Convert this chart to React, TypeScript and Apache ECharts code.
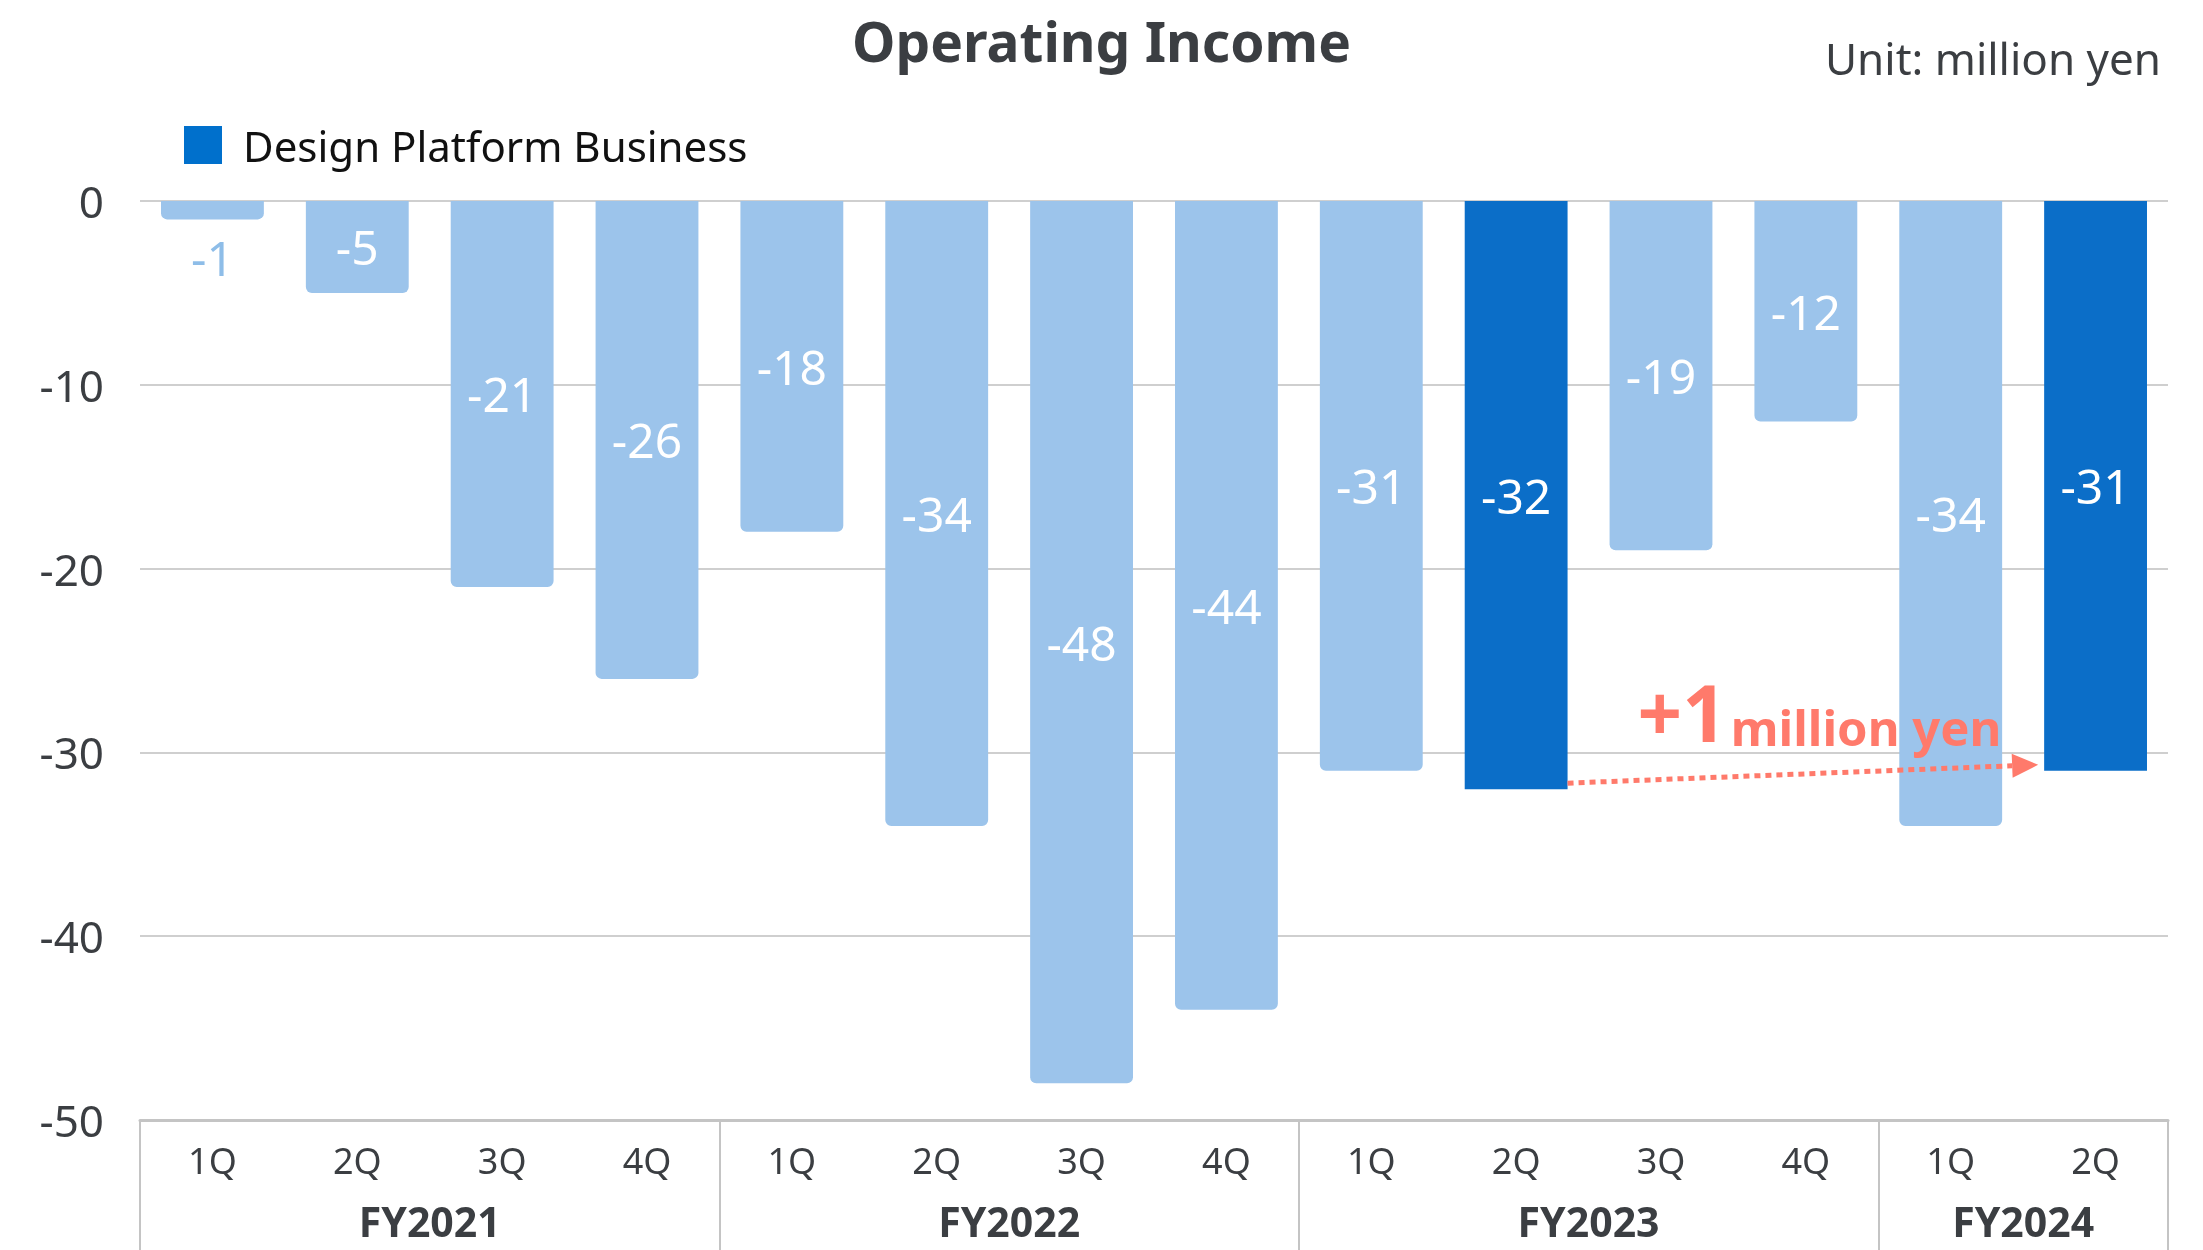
import React, { useEffect, useRef } from "react";
import * as echarts from "echarts";

const quarters = ["1Q", "2Q", "3Q", "4Q", "1Q", "2Q", "3Q", "4Q", "1Q", "2Q", "3Q", "4Q", "1Q", "2Q"];
const fiscalYears = ["FY2021", "FY2022", "FY2023", "FY2024"];
const yearSizes = [4, 4, 4, 2];
const values = [-1, -5, -21, -26, -18, -34, -48, -44, -31, -32, -19, -12, -34, -31];
const highlighted = [9, 13];
const outsideLabel = [0];
const compareFrom = 9;
const compareTo = 13;
const diffText = "+1";
const diffUnit = "million yen";
const seriesName = "Design Platform Business";

const FONT = "'Noto Sans', 'Liberation Sans', sans-serif";
const DARK = "#0B6EC8";
const LIGHT = "#9CC4EB";
const CORAL = "#FF7A6B";
const TEXT = "#3b3e42";

export default function App() {
  const ref = useRef<HTMLDivElement>(null);
  useEffect(() => {
    const chart = echarts.init(ref.current!, undefined, { renderer: "svg" });

    const boundaries: number[] = [];
    const centers: Record<number, string> = {};
    let acc = 0;
    yearSizes.forEach((s, i) => {
      boundaries.push(acc);
      centers[acc + s / 2] = fiscalYears[i];
      acc += s;
    });

    const data = values.map((v, i) => {
      const hi = highlighted.includes(i);
      const out = outsideLabel.includes(i);
      return {
        value: v,
        itemStyle: { color: hi ? DARK : LIGHT, borderRadius: hi ? 0 : [0, 0, 6, 6] },
        label: out
          ? { position: "bottom", color: "#8ebde8", distance: 14 }
          : { position: "inside", color: "#fff" },
      };
    });

    chart.setOption({
      animation: false,
      title: [
        {
          text: "Operating Income",
          left: "center",
          top: 8,
          padding: 0,
          textStyle: { fontFamily: FONT, fontSize: 55, fontWeight: "bold", color: TEXT, lineHeight: 64 },
        },
        {
          text: "Unit: million yen",
          right: 37,
          top: 31,
          textStyle: { fontFamily: FONT, fontSize: 44, fontWeight: "normal", color: TEXT },
        },
      ],
      legend: {
        left: 184,
        top: 124,
        padding: 0,
        itemWidth: 38,
        itemHeight: 38,
        icon: "rect",
        data: [{ name: seriesName, itemStyle: { color: "#0070CC" } }],
        textStyle: { fontFamily: FONT, fontSize: 42, color: "#111", padding: [0, 0, 0, 16] },
      },
      grid: { left: 140, right: 35, top: 201, bottom: 130, containLabel: false },
      xAxis: [
        {
          type: "category",
          data: quarters,
          position: "bottom",
          axisLine: { onZero: false, lineStyle: { color: "#c4c4c4", width: 3 } },
          axisTick: {
            show: true,
            length: 135,
            interval: (idx: number) => boundaries.includes(idx),
            lineStyle: { color: "#c4c4c4", width: 2 },
          },
          axisLabel: {
            interval: 0,
            margin: 22,
            fontFamily: FONT,
            fontSize: 36,
            color: TEXT,
          },
        },
        {
          type: "value",
          min: 0,
          max: values.length,
          interval: 1,
          position: "bottom",
          axisLine: { show: false },
          axisTick: { show: false },
          splitLine: { show: false },
          axisLabel: {
            margin: 80,
            fontFamily: FONT,
            fontSize: 41,
            fontWeight: "bold",
            color: TEXT,
            showMinLabel: true,
            showMaxLabel: true,
            formatter: (v: number) => centers[v] || "",
          },
        },
      ],
      yAxis: {
        type: "value",
        min: -50,
        max: 0,
        interval: 10,
        axisLine: { show: false },
        axisTick: { show: false },
        splitLine: { lineStyle: { color: "#cfcfcf", width: 2 } },
        axisLabel: { fontFamily: FONT, fontSize: 44, color: TEXT, margin: 36 },
      },
      series: [
        {
          name: seriesName,
          type: "bar",
          xAxisIndex: 0,
          yAxisIndex: 0,
          barWidth: "71%",
          itemStyle: { color: DARK },
          label: { show: true, fontFamily: FONT, fontSize: 48 },
          data,
        },
      ],
    });

    const p0 = chart.convertToPixel({ xAxisIndex: 0, yAxisIndex: 0 }, [0, 0]) as number[];
    const p1 = chart.convertToPixel({ xAxisIndex: 0, yAxisIndex: 0 }, [1, 0]) as number[];
    const band = p1[0] - p0[0];
    const half = (band * 0.71) / 2;
    const a = chart.convertToPixel({ xAxisIndex: 0, yAxisIndex: 0 }, [compareFrom, values[compareFrom]]) as number[];
    const b = chart.convertToPixel({ xAxisIndex: 0, yAxisIndex: 0 }, [compareTo, values[compareTo]]) as number[];
    const x1 = a[0] + half;
    const y1 = a[1] - 6;
    const tipX = b[0] - half - 6;
    const tipY = b[1] - 6;
    const headLen = 26;
    const dx = tipX - x1;
    const dy = tipY - y1;
    const len = Math.sqrt(dx * dx + dy * dy);
    const ux = dx / len;
    const uy = dy / len;
    const bx = tipX - ux * headLen;
    const by = tipY - uy * headLen;
    const hw = 12;

    chart.setOption({
      graphic: [
        {
          type: "line",
          shape: { x1, y1, x2: bx, y2: by },
          style: { stroke: CORAL, lineWidth: 5, lineDash: [6, 5] },
          z: 100,
        },
        {
          type: "polygon",
          shape: {
            points: [
              [tipX, tipY],
              [bx - uy * hw, by + ux * hw],
              [bx + uy * hw, by - ux * hw],
            ],
          },
          style: { fill: CORAL },
          z: 100,
        },
        {
          type: "text",
          x: x1 + 70,
          y: y1 - 32,
          z: 100,
          style: {
            text: `{big|${diffText}}{small|${diffUnit}}`,
            verticalAlign: "bottom",
            rich: {
              big: { fontFamily: FONT, fontSize: 78, fontWeight: "bold", fill: CORAL, verticalAlign: "bottom", lineHeight: 80 },
              small: { fontFamily: FONT, fontSize: 49, fontWeight: "bold", fill: CORAL, verticalAlign: "bottom", lineHeight: 56, padding: [0, 0, 0, 4] },
            },
          },
        },
      ],
    });

    return () => chart.dispose();
  }, []);
  return <div ref={ref} style={{ position: "fixed", left: 0, top: 0, width: 2203, height: 1250 }} />;
}
